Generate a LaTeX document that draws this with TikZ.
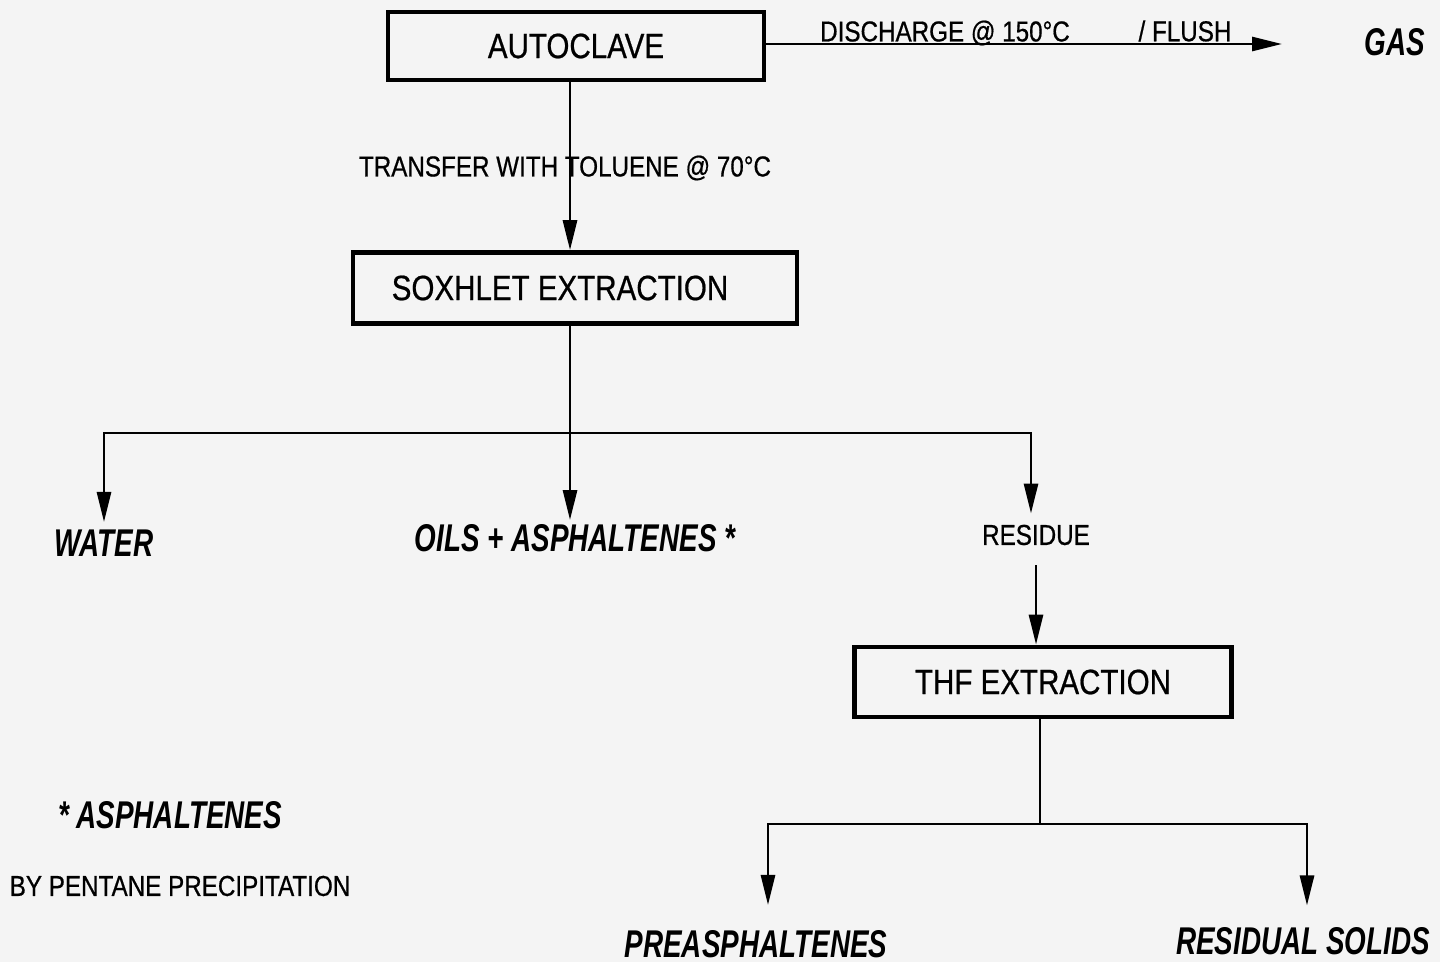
\documentclass[tikz,border=0pt]{standalone}
\usepackage{fontspec}
\setmainfont{Liberation Sans}[FakeStretch=0.84,FakeBold=0.6]
\newfontfamily\prodfont{Liberation Sans}[FakeStretch=0.72]
\usepackage{xcolor}
\usepackage{tikz}
\usetikzlibrary{arrows.meta,positioning,calc}

\definecolor{paper}{HTML}{F4F4F4}

\begin{document}
\begin{tikzpicture}[
  x=0.01cm,y=-0.01cm,
  box/.style={draw,line width=1.3pt,inner sep=0pt,font=\fontsize{10}{12}\selectfont},
  arr/.style={-{Triangle[length=3mm,width=1.4mm]},line width=0.8pt},
  flow/.style={line width=0.8pt},
  label/.style={font=\fontsize{8.2}{10}\selectfont,inner sep=1pt},
  prod/.style={font=\fontsize{11}{13}\selectfont\prodfont\bfseries\itshape,inner sep=1pt}
]
  \fill[paper] (0,0) rectangle (1440,962);
  \useasboundingbox (0,0) rectangle (1440,962);

  % boxes
  \node[box,minimum width=3.76cm,minimum height=0.68cm] (auto) at (576,46) {AUTOCLAVE};
  \node[box,minimum width=4.44cm,minimum height=0.71cm] (sox) at (575,288) {SOXHLET EXTRACTION\hspace*{0.3cm}};
  \node[box,minimum width=3.77cm,minimum height=0.70cm] (thf) at (1043,682) {THF EXTRACTION};

  % products
  \node[prod] (gas) at (1395,42) {GAS};
  \node[prod] (water) at (104,543) {WATER};
  \node[prod] (oils) at (575,538) {OILS + ASPHALTENES *};
  \node[label] (residue) at (1036,535) {RESIDUE};
  \node[prod] (preas) at (756,944) {PREASPHALTENES};
  \node[prod] (solids) at (1303,941) {RESIDUAL SOLIDS};

  % notes
  \node[label] (disch) at (945,33) {DISCHARGE @ 150°C};
  \node[label] (flush) at (1185,31) {/ FLUSH};
  \node[label] (transf) at (565,168) {TRANSFER WITH TOLUENE @ 70°C};
  \node[prod] (note) at (170,815) {* ASPHALTENES};
  \node[label] (pent) at (180,886) {BY PENTANE PRECIPITATION};

  \coordinate (gasin) at (1282,44);
  \coordinate (s1) at (570,433);
  \coordinate (s2) at (1040,824);

  % connectors
  \draw[arr] (auto.east |- gasin) -- (gasin);
  \draw[arr] (auto.south -| s1) -- (sox.north -| s1);
  \draw[flow] (sox.south -| s1) -- (s1);
  \draw[arr] (s1) -- (oils.north -| s1);
  \draw[arr,shorten >=1pt] (s1) -| (water.north);
  \draw[arr,shorten >=2pt] (s1) -| ($(residue.north)+(-5,0)$);
  \draw[arr,shorten <=4.5pt] (residue.south) -- (thf.north -| residue.south);
  \draw[flow] (thf.south -| s2) -- (s2);
  \draw[arr,shorten >=6pt] (s2) -| ($(preas.north)+(12,0)$);
  \draw[arr,shorten >=5pt] (s2) -| ($(solids.north)+(4,0)$);
\end{tikzpicture}
\end{document}
